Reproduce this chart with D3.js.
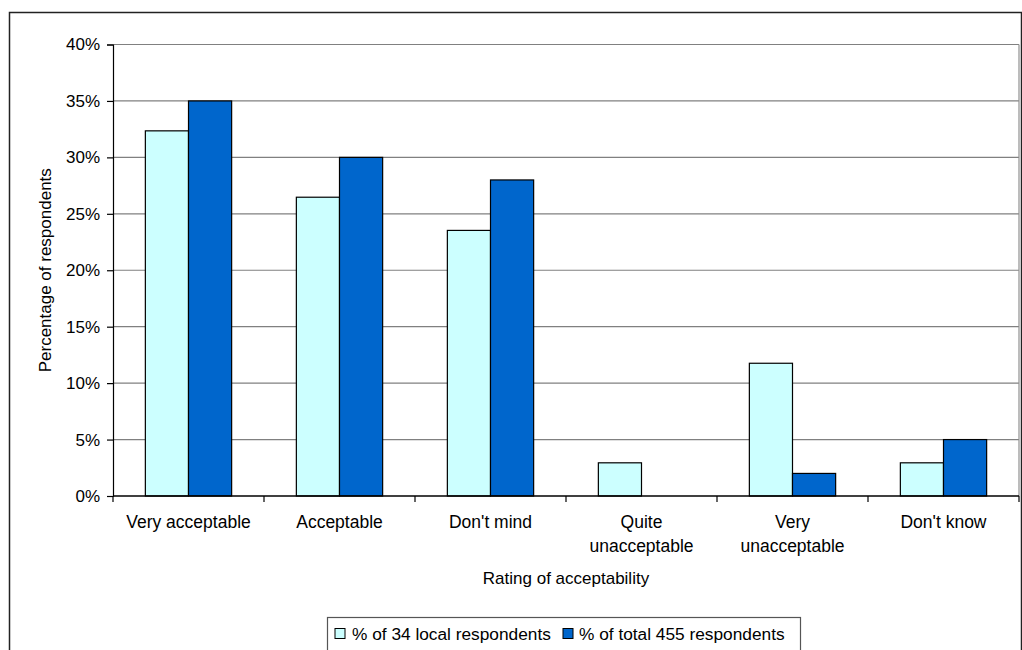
<!DOCTYPE html>
<html>
<head>
<meta charset="utf-8">
<script src="https://cdn.jsdelivr.net/npm/d3@7"></script>
<style>
  html, body { margin: 0; padding: 0; background: #fff; }
  svg { display: block; font-family: "Liberation Sans", Arial, sans-serif; }
</style>
</head>
<body>
<svg id="chart" width="1022" height="650"></svg>
<script>
// Survey: rating of acceptability
const categories = ["Very acceptable", "Acceptable", "Don't mind", "Quite\nunacceptable", "Very\nunacceptable", "Don't know"];
const seriesNames = ["% of 34 local respondents", "% of total 455 respondents"];
const localValues = [0.3235, 0.2647, 0.2353, 0.0294, 0.1176, 0.0294];
const totalValues = [0.35, 0.30, 0.28, 0.0, 0.02, 0.05];
const yTicks = [0, 0.05, 0.10, 0.15, 0.20, 0.25, 0.30, 0.35, 0.40];
const seriesColors = ["#CCFFFF", "#0066CC"];

const svg = d3.select("#chart");
const plot = { left: 113, right: 1019, top: 44.5, bottom: 496 };

// outer chart frame
svg.append("rect")
  .attr("x", 9.5).attr("y", 12.5)
  .attr("width", 1012).attr("height", 700)
  .attr("fill", "none").attr("stroke", "#222").attr("stroke-width", 1.5);

const x0 = d3.scaleBand().domain(categories).range([plot.left, plot.right]).padding(0);
const x1 = d3.scaleBand().domain(seriesNames).range([0, x0.bandwidth()]).paddingInner(0).paddingOuter(0.75);
const y = d3.scaleLinear().domain([0, 0.4]).range([plot.bottom, plot.top]);

// gridlines
svg.append("g").selectAll("line")
  .data(yTicks.filter(t => t > 0))
  .join("line")
  .attr("x1", plot.left).attr("x2", plot.right)
  .attr("y1", d => y(d)).attr("y2", d => y(d))
  .attr("stroke", "#808080").attr("stroke-width", 1.2);

// plot area right border
svg.append("line")
  .attr("x1", plot.right).attr("x2", plot.right)
  .attr("y1", plot.top).attr("y2", plot.bottom)
  .attr("stroke", "#909090").attr("stroke-width", 1.2);

// bars
const rows = categories.map((c, i) => ({ cat: c, vals: [localValues[i], totalValues[i]] }));
const groups = svg.append("g").selectAll("g")
  .data(rows).join("g")
  .attr("transform", d => `translate(${x0(d.cat)},0)`);
groups.selectAll("rect")
  .data(d => d.vals.map((v, j) => ({ v, s: seriesNames[j], j })).filter(e => e.v > 0))
  .join("rect")
  .attr("x", d => x1(d.s))
  .attr("width", x1.bandwidth())
  .attr("y", d => y(d.v))
  .attr("height", d => y(0) - y(d.v))
  .attr("fill", d => seriesColors[d.j])
  .attr("stroke", "#000").attr("stroke-width", 1.2);

// y axis
const yAxis = d3.axisLeft(y).tickValues(yTicks).tickFormat(d3.format(".0%")).tickSize(6).tickPadding(7);
const yg = svg.append("g").attr("transform", `translate(${plot.left},0)`).call(yAxis);
yg.select(".domain").attr("stroke", "#000").attr("stroke-width", 1.2);
yg.selectAll(".tick line").attr("stroke", "#000").attr("stroke-width", 1.2);
yg.selectAll(".tick text").attr("font-size", 17).attr("fill", "#000")
  .attr("font-family", "Liberation Sans, Arial, sans-serif");

// x axis
const xTickPositions = d3.range(categories.length + 1).map(i => plot.left + i * x0.step());
const xg = svg.append("g");
xg.append("line")
  .attr("x1", plot.left).attr("x2", plot.right)
  .attr("y1", plot.bottom).attr("y2", plot.bottom)
  .attr("stroke", "#000").attr("stroke-width", 1.5);
xg.selectAll("line.tick").data(xTickPositions).join("line")
  .attr("class", "tick")
  .attr("x1", d => d).attr("x2", d => d)
  .attr("y1", plot.bottom).attr("y2", plot.bottom + 6)
  .attr("stroke", "#000").attr("stroke-width", 1.2);

const labels = xg.selectAll("text.cat").data(categories).join("text")
  .attr("class", "cat")
  .attr("text-anchor", "middle")
  .attr("font-size", 17.5)
  .attr("fill", "#000");
labels.each(function(d) {
  const t = d3.select(this);
  const cx = x0(d) + x0.bandwidth() / 2;
  d.split("\n").forEach((line, i) => {
    t.append("tspan").attr("x", cx).attr("y", 528 + i * 23.5).text(line);
  });
});

// axis titles
svg.append("text")
  .attr("x", (plot.left + plot.right) / 2).attr("y", 584)
  .attr("text-anchor", "middle").attr("font-size", 17)
  .text("Rating of acceptability");
svg.append("text")
  .attr("transform", `translate(51,${(plot.top + plot.bottom) / 2}) rotate(-90)`)
  .attr("text-anchor", "middle").attr("font-size", 17)
  .text("Percentage of respondents");

// legend
const legend = svg.append("g");
legend.append("rect")
  .attr("x", 327.5).attr("y", 617.5).attr("width", 473).attr("height", 40)
  .attr("fill", "#fff").attr("stroke", "#555").attr("stroke-width", 1.2);
const legendItems = [
  { name: seriesNames[0], color: seriesColors[0], sx: 335, tx: 352 },
  { name: seriesNames[1], color: seriesColors[1], sx: 563, tx: 579 }
];
legendItems.forEach(it => {
  legend.append("rect")
    .attr("x", it.sx).attr("y", 628.5).attr("width", 10).attr("height", 10)
    .attr("fill", it.color).attr("stroke", "#000").attr("stroke-width", 1);
  legend.append("text")
    .attr("x", it.tx).attr("y", 640)
    .attr("font-size", 17.3)
    .text(it.name);
});
</script>
</body>
</html>
